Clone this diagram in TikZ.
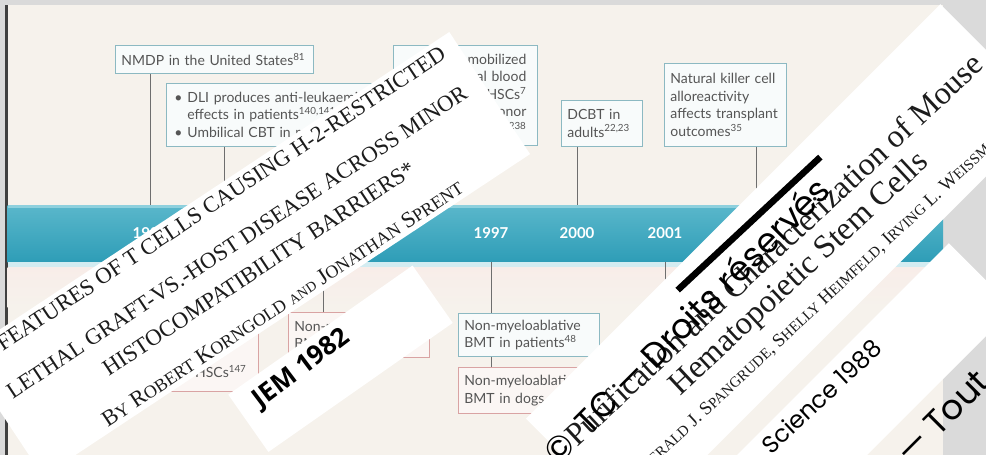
\documentclass[tikz,border=0pt]{standalone}
\usepackage{fontspec}
\setmainfont{Liberation Serif}
\newfontfamily\latof{Lato}
\newfontfamily\popf{Poppins}
\newfontfamily\osf{Open Sans}
\usepackage{graphicx}
\definecolor{pagegray}{HTML}{DADADA}
\definecolor{cream}{HTML}{F6F2EC}
\definecolor{pinkish}{HTML}{F8EDE9}
\definecolor{tealedge}{HTML}{8CB9C2}
\definecolor{boxfill}{HTML}{F8FBFB}
\definecolor{rededge}{HTML}{D9A3A3}
\definecolor{redfill}{HTML}{FBF6F4}
\definecolor{linegray}{HTML}{6E6E6E}
\definecolor{txtgray}{HTML}{555555}
\definecolor{bandtop}{HTML}{5AB7CB}
\definecolor{bandbot}{HTML}{2E9DB7}
\definecolor{bandhi}{HTML}{8ED0DD}
\definecolor{bandlow}{HTML}{D3ECF1}
\definecolor{inkblack}{HTML}{1C1C1C}
\newcommand\smc[1]{\scalebox{0.8}{#1}}
\newcommand\bxfont{\latof\fontsize{14}{17.5}\selectfont}
\begin{document}
\begin{tikzpicture}[x=1pt,y=-1pt,
  plain/.style={inner sep=0pt, outer sep=0pt, draw=none},
  tbox/.style={draw=tealedge, fill=boxfill, line width=0.8pt, inner xsep=6pt, inner ysep=2pt, anchor=north west, align=left, font=\bxfont, text=txtgray},
  rbox/.style={tbox, draw=rededge, fill=redfill},
  conn/.style={draw=linegray, line width=0.9pt},
  year/.style={font=\latof\bfseries\fontsize{15}{15}\selectfont, text=white, inner sep=0pt},
  sheet/.style={fill=white, inner sep=0pt, outer sep=0pt, draw=none},
  serifline/.style={inner sep=0pt, text=inkblack, font=\fontsize{20}{24}\selectfont, anchor=base west},
  wmark/.style={inner sep=0pt, text=black, font=\popf\fontsize{34.5}{34.5}\selectfont, anchor=base west},
]
\useasboundingbox (0,0) rectangle (986,455);
% page and figure background
\node[plain, fill=pagegray, minimum width=986pt, minimum height=455pt, anchor=north west] (page) at (0,0) {};
\node[plain, fill=cream, minimum width=935.5pt, minimum height=450pt, anchor=north west] (figbg) at (7.5,5) {};
\node[plain, fill=black!75, minimum width=2.5pt, minimum height=450pt, anchor=north west] (edge) at (5,5) {};
% timeline band
\node[plain, top color=bandtop, bottom color=bandbot, minimum width=935.5pt, minimum height=57pt, anchor=north west] (band) at (7.5,205) {};
\node[plain, fill=bandhi, minimum width=935.5pt, minimum height=3pt, anchor=north west] (bandhl) at (7.5,205) {};
\node[plain, fill=bandlow, minimum width=935.5pt, minimum height=5pt, anchor=north west] (bandfoot) at (7.5,262) {};
\node[plain, top color=pinkish, bottom color=cream, minimum width=935.5pt, minimum height=40pt, anchor=north west] (pink) at (7.5,267) {};
% years
\node[year] (y1986) at (150,233) {1986};
\node[year] (y1997) at (491,233) {1997};
\node[year] (y2000) at (577,233) {2000};
\node[year] (y2001) at (665,233) {2001};
% connector end points on the band
\coordinate (t1986) at (150,205);
\coordinate (tdli) at (224,205);
\coordinate (t2000) at (577,205);
\coordinate (tnk) at (756,205);
\coordinate (b1997) at (491,262);
\coordinate (bmid) at (323,262);
\coordinate (b2001) at (665,262);
\coordinate (e2001) at (665,330);
% upper boxes
\node[tbox, text width=186pt, minimum height=28pt] (nmdp) at (115,45) {NMDP in the United States\textsuperscript{81}};
\node[tbox, text width=207pt, minimum height=63pt] (dli) at (166,83) {\makebox[15pt][l]{\hspace{2pt}•}DLI produces anti-leukaemic\\\hspace*{15pt}effects in patients\textsuperscript{140,141}\\\makebox[15pt][l]{\hspace{2pt}•}Umbilical CBT in man};
\node[tbox, inner xsep=11pt, text width=122pt, minimum height=100pt, align=right] (mob) at (393,45) {• G-CSF-mobilized\\peripheral blood\\HSCs\textsuperscript{7}\\• Donor\\patients\textsuperscript{238}};
\node[tbox, text width=69pt, minimum height=46pt] (dcbt) at (561,100) {DCBT in\\adults\textsuperscript{22,23}};
\node[tbox, text width=110pt, minimum height=83pt] (nk) at (664,63) {Natural killer cell\\alloreactivity\\affects transplant\\outcomes\textsuperscript{35}};
% lower boxes
\node[tbox, text width=129pt, minimum height=43pt] (nma1) at (458,313) {Non-myeloablative\\BMT in patients\textsuperscript{48}};
\node[rbox, text width=129pt, minimum height=46pt] (nma2) at (458,367) {Non-myeloablative\\BMT in dogs};
\node[rbox, text width=129pt, minimum height=45pt] (rb2) at (288,312) {Non-myeloablative\\BMT in mice};
\node[rbox, inner xsep=12pt, text width=84pt, minimum height=69pt, align=right] (rb1) at (150,322) {\mbox{}\\\mbox{}\\[6pt]HSCs\textsuperscript{147}};
% connectors
\draw[conn] (nmdp.south -| t1986) -- (t1986);
\draw[conn] (dli.south -| tdli) -- (tdli);
\draw[conn] (dcbt.south -| t2000) -- (t2000);
\draw[conn] (nk.south -| tnk) -- (tnk);
\draw[conn] (b1997) -- (nma1.north -| b1997);
\draw[conn] (nma1.south -| b1997) -- (nma2.north -| b1997);
\draw[conn] (bmid) -- (rb2.north -| bmid);
\draw[conn] (b2001) -- (e2001);
% Korngold paper
\node[sheet, minimum width=584pt, minimum height=146.4pt, rotate=33.5] (korn) at (246.2,254.2) {};
\node[serifline, rotate=33.5] (k1) at (2.7,352) {\resizebox{533pt}{!}{FEATURES OF T CELLS CAUSING H-2-RESTRICTED}};
\node[serifline, rotate=33.5] (k2) at (12.6,399.5) {\resizebox{547pt}{!}{LETHAL GRAFT-VS.-HOST DISEASE ACROSS MINOR}};
\node[serifline, rotate=33.5] (k3) at (108.8,376.5) {\resizebox{369pt}{!}{HISTOCOMPATIBILITY BARRIERS*}};
\node[serifline, rotate=33.5] (k4) at (107.8,427.5) {\resizebox{428pt}{!}{B\smc{Y} R\smc{OBERT} K\smc{ORNGOLD} \scalebox{0.62}{AND} J\smc{ONATHAN} S\smc{PRENT}}};
% JEM label
\node[sheet, minimum width=225pt, minimum height=70pt, rotate=35] (jem) at (340.5,358.75) {};
\node[inner sep=0pt, text=black, font=\osf\bfseries\fontsize{26}{26}\selectfont, rotate=37] (jemt) at (302,369) {JEM 1982};
% Science paper
\node[sheet, minimum width=586pt, minimum height=154pt, rotate=45] (sci) at (787.6,265.8) {};
\node[plain, fill=black, minimum width=195pt, minimum height=6.5pt, rotate=43] (rule) at (749,223.6) {};
\node[serifline, rotate=43] (t1) at (577,448) {\resizebox{558pt}{!}{Purification and Characterization of Mouse}};
\node[serifline, rotate=43] (t2) at (680,397) {\resizebox{341pt}{!}{Hematopoietic Stem Cells}};
\node[serifline, rotate=43] (au) at (668,452) {\resizebox{428pt}{!}{\llap{G\smc{ER}}\smc{ALD} J. S\smc{PANGRUDE}, S\smc{HELLY} H\smc{EIMFELD}, I\smc{RVING} L. W\smc{EISS}\rlap{\smc{MAN}}}};
% Science label
\node[sheet, minimum width=349pt, minimum height=92pt, rotate=45] (scil) at (858,399.1) {};
\node[inner sep=0pt, text=black, font=\popf\fontsize{24}{24}\selectfont, rotate=43] (scit) at (821.5,396.5) {Science 1988};
% watermark
\node[wmark, rotate=45] (wm) at (589,436.2) {\llap{©\hspace{16pt}}\resizebox{344pt}{!}{TC — Droits réservés}};
\node[wmark, rotate=45] (wm2) at (910,466) {— Tout};
\end{tikzpicture}
\end{document}
